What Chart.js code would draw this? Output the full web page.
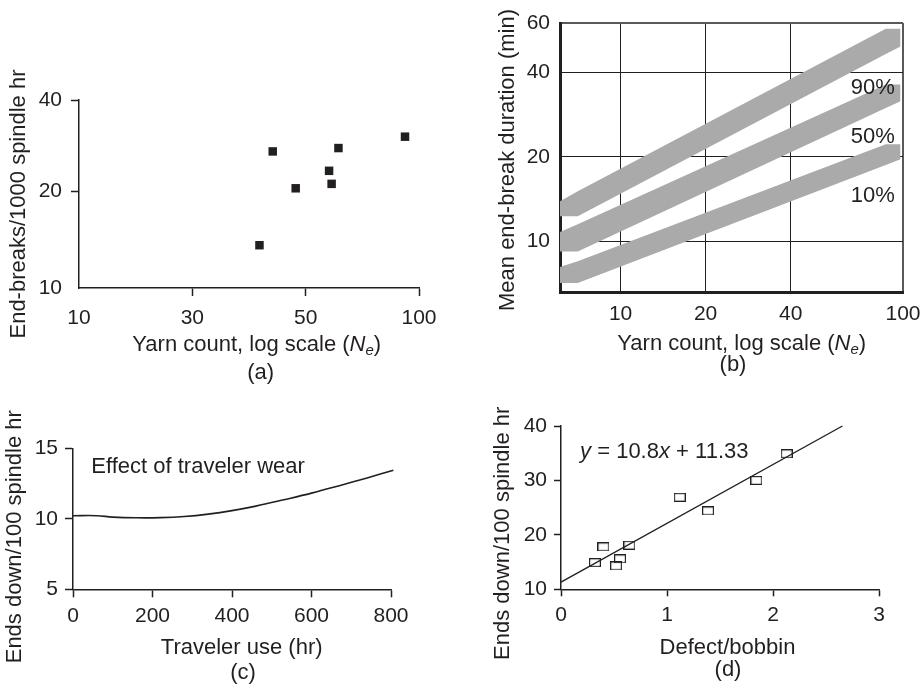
<!DOCTYPE html>
<html><head><meta charset="utf-8">
<script src="https://cdn.jsdelivr.net/npm/chart.js@4.4.1/dist/chart.umd.min.js"></script>
<style>
html,body{margin:0;padding:0;background:#fff;width:920px;height:686px;overflow:hidden;position:relative;}
canvas{position:absolute;}
</style></head><body>
<canvas id="ca" width="460" height="395" style="left:0;top:0;width:460px;height:395px"></canvas>
<canvas id="cb" width="500" height="395" style="left:460px;top:0;width:500px;height:395px"></canvas>
<canvas id="cc" width="460" height="291" style="left:0;top:395px;width:460px;height:291px"></canvas>
<canvas id="cd" width="460" height="291" style="left:460px;top:395px;width:460px;height:291px"></canvas>
<script>
// ---------- Panel (a) ----------
const yarnCountA = [40.6, 43.1, 47.8, 57.7, 58.6, 61.1, 91.8];
const endBreaksA = [13.6, 27.1, 20.5, 23.4, 21.2, 27.8, 30.3];
const xTicksA = [10, 30, 50, 100];
const yTicksA = [10, 20, 40];
// ---------- Panel (b) ----------
const bandX = [6.1, 7.05, 86.9, 98];
const band90Upper = [13.9, 15.1, 57.2, 57.2];
const band90Lower = [12.3, 12.3, 46.5, 49.5];
const band50Upper = [10.8, 11.5, 36.2, 36.2];
const band50Lower = [9.2, 9.2, 29.9, 31.6];
const band10Upper = [8.1, 8.5, 22.2, 22.2];
const band10Lower = [7.1, 7.1, 18.7, 19.6];
const xTicksB = [10, 20, 40, 100];
const yTicksB = [10, 20, 40, 60];
const bandLabels = ['90%', '50%', '10%'];
// ---------- Panel (c) ----------
const travelerUse = [0, 60, 100, 160, 220, 280, 340, 400, 460, 530, 600, 670, 740, 806];
const endsDownC = [10.22, 10.22, 10.12, 10.07, 10.08, 10.16, 10.33, 10.58, 10.9, 11.35, 11.82, 12.35, 12.9, 13.45];
// ---------- Panel (d) ----------
const defectsD = [0.32, 0.40, 0.52, 0.557, 0.645, 1.12, 1.387, 1.843, 2.129];
const endsDownD = [14.9, 17.8, 14.3, 15.6, 18.1, 26.9, 24.4, 30.0, 34.9];
const fitX = [0, 2.655];
const fitY = [11.33, 40.0];

const FONT = "'Liberation Sans', Arial, Helvetica, sans-serif";
const DARK = '#231f20';
const TEXT = '#231f20';
const GRAY = '#aaaaaa';
const FS = 21;   // tick labels
const TS = 22;   // titles and annotations

Chart.defaults.font.family = FONT;
Chart.defaults.font.size = FS;
Chart.defaults.color = TEXT;
Chart.defaults.animation = false;
Chart.defaults.plugins.legend.display = false;
Chart.defaults.plugins.tooltip.enabled = false;

// Axis whose tick values are placed at given fractions, log-interpolated in between
class BreakScale extends Chart.LinearScale {
  determineDataLimits() {
    const b = Array.from(this.options.breaks);
    this.min = b[0]; this.max = b[b.length - 1];
  }
  buildTicks() { return Array.from(this.options.breaks).map(v => ({value: v})); }
  _frac(value) {
    const b = Array.from(this.options.breaks), f = Array.from(this.options.fracs);
    if (value <= b[0]) return f[0];
    for (let i = 0; i < b.length - 1; i++) {
      if (value <= b[i + 1]) {
        const t = (Math.log(value) - Math.log(b[i])) / (Math.log(b[i + 1]) - Math.log(b[i]));
        return f[i] + t * (f[i + 1] - f[i]);
      }
    }
    return f[f.length - 1];
  }
  getPixelForValue(value) { return this.getPixelForDecimal(this._frac(value)); }
  getValueForPixel(pixel) {
    const d = this.getDecimalForPixel(pixel);
    const b = Array.from(this.options.breaks), f = Array.from(this.options.fracs);
    for (let i = 0; i < b.length - 1; i++) {
      if (d <= f[i + 1] || i === b.length - 2) {
        const t = (d - f[i]) / (f[i + 1] - f[i]);
        return Math.exp(Math.log(b[i]) + t * (Math.log(b[i + 1]) - Math.log(b[i])));
      }
    }
  }
}
BreakScale.id = 'breaks';
BreakScale.defaults = {};
Chart.register(BreakScale);

function fontOf(p, base) { return (p.italic ? 'italic ' : '') + (p.size || base) + 'px ' + FONT; }
function textPlugin(id, items) {
  return { id, afterDraw(chart) {
    const ctx = chart.ctx;
    items.forEach(it => {
      let x = it.x, y = it.y;
      if (it.at) { x = chart.scales.x.getPixelForValue(it.at[0]); y = chart.scales.y.getPixelForValue(it.at[1]); }
      const parts = it.parts.map(p => typeof p === 'string' ? {text: p} : Object.assign({}, p));
      ctx.save();
      ctx.translate(x, y);
      if (it.rotate) ctx.rotate(it.rotate);
      ctx.textBaseline = it.baseline || 'alphabetic';
      ctx.textAlign = 'left';
      ctx.fillStyle = TEXT;
      let total = 0;
      parts.forEach(p => { ctx.font = fontOf(p, it.size || TS); p.w = ctx.measureText(p.text).width; total += p.w; });
      let cx = it.align === 'left' ? 0 : it.align === 'right' ? -total : -total / 2;
      parts.forEach(p => { ctx.font = fontOf(p, it.size || TS); ctx.fillText(p.text, cx, p.dy || 0); cx += p.w; });
      ctx.restore();
    });
  }};
}
const pts = (xs, ys) => xs.map((x, i) => ({x, y: ys[i]}));
const hideFirst = c => c.index === 0 ? 'rgba(0,0,0,0)' : DARK;
const NE = [{text: 'N', italic: true}, {text: 'e', italic: true, size: 15, dy: 4}, ')'];

// ---------- Chart (a) ----------
new Chart(document.getElementById('ca'), {
  type: 'scatter',
  data: { datasets: [{
    data: pts(yarnCountA, endBreaksA),
    pointStyle: 'rect', pointRadius: 6, backgroundColor: DARK, borderColor: DARK, borderWidth: 0
  }]},
  options: {
    responsive: false,
    layout: { autoPadding: false, padding: { top: 100, right: 41, bottom: 0, left: 0 } },
    scales: {
      x: { type: 'breaks', position: 'bottom', breaks: xTicksA, fracs: [0, 1/3, 2/3, 1],
        grid: { drawOnChartArea: false, tickLength: 8, tickWidth: 1.5, tickColor: hideFirst },
        border: { display: true, color: DARK, width: 1.5 },
        ticks: { padding: 10, autoSkip: false, maxRotation: 0, callback: v => String(v) },
        afterFit: s => { s.height = 107; } },
      y: { type: 'breaks', position: 'left', breaks: yTicksA, fracs: [0, 0.513, 1],
        grid: { drawOnChartArea: false, tickLength: 8, tickWidth: 1.5, tickColor: hideFirst },
        border: { display: true, color: DARK, width: 1.5 },
        ticks: { padding: 9, autoSkip: false, callback: v => String(v) },
        afterFit: s => { s.width = 79; } }
    }
  },
  plugins: [textPlugin('txtA', [
    { x: 19, y: 204, rotate: -Math.PI / 2, baseline: 'middle', parts: ['End-breaks/1000 spindle hr'] },
    { x: 256.7, y: 351, parts: ['Yarn count, log scale ('].concat(NE) },
    { x: 260.7, y: 379, parts: ['(a)'] }
  ])]
});

// ---------- Chart (b) ----------
const bandDs = (up, lo) => [
  { data: pts(bandX, up), fill: '+1', backgroundColor: GRAY, borderColor: 'rgba(0,0,0,0)', borderWidth: 1, pointRadius: 0 },
  { data: pts(bandX, lo), fill: false, borderColor: 'rgba(0,0,0,0)', borderWidth: 1, pointRadius: 0 }
];
new Chart(document.getElementById('cb'), {
  type: 'line',
  data: { datasets: [].concat(bandDs(band90Upper, band90Lower), bandDs(band50Upper, band50Lower), bandDs(band10Upper, band10Lower)) },
  options: {
    responsive: false,
    layout: { autoPadding: false, padding: { top: 23, right: 57, bottom: 0, left: 0 } },
    scales: {
      x: { type: 'logarithmic', position: 'bottom', min: 6.1, max: 100,
        afterBuildTicks: s => { s.ticks = xTicksB.map(v => ({value: v})); },
        grid: { drawTicks: false, color: c => (c.tick && c.tick.value === 100) ? '#58595b' : DARK,
                lineWidth: c => (c.tick && c.tick.value === 100) ? 2 : 1 },
        border: { display: true, color: DARK, width: 3 },
        ticks: { padding: 10, autoSkip: false, maxRotation: 0, callback: v => String(v) },
        afterFit: s => { s.height = 103; } },
      y: { type: 'logarithmic', position: 'left', min: 6.6, max: 60,
        afterBuildTicks: s => { s.ticks = yTicksB.map(v => ({value: v})); },
        grid: { drawTicks: false, color: c => (c.tick && c.tick.value === 60) ? '#58595b' : DARK,
                lineWidth: c => (c.tick && c.tick.value === 60) ? 2 : 1 },
        border: { display: true, color: DARK, width: 3 },
        ticks: { padding: 10, autoSkip: false, callback: v => String(v) },
        afterFit: s => { s.width = 100; } }
    }
  },
  plugins: [textPlugin('txtB', [
    { x: 48.3, y: 160, rotate: -Math.PI / 2, baseline: 'middle', parts: ['Mean end-break duration (min)'] },
    { x: 281.7, y: 350, parts: ['Yarn count, log scale ('].concat(NE) },
    { x: 273, y: 371, parts: ['(b)'] },
    { at: [93.5, 33.5], align: 'right', parts: [bandLabels[0]] },
    { at: [93.5, 22.4], align: 'right', parts: [bandLabels[1]] },
    { at: [93.5, 13.85], align: 'right', parts: [bandLabels[2]] }
  ])]
});

// ---------- Chart (c) ----------
new Chart(document.getElementById('cc'), {
  type: 'line',
  data: { datasets: [{
    data: pts(travelerUse, endsDownC), borderColor: DARK, borderWidth: 1.6, pointRadius: 0,
    tension: 0.4, fill: false, clip: false
  }]},
  options: {
    responsive: false,
    layout: { autoPadding: false, padding: { top: 53.3, right: 69, bottom: 0, left: 0 } },
    scales: {
      x: { type: 'linear', position: 'bottom', min: 0, max: 800,
        grid: { drawOnChartArea: false, tickLength: 8, tickWidth: 1.5, tickColor: DARK },
        border: { display: true, color: DARK, width: 1.5 },
        ticks: { stepSize: 200, padding: 6, autoSkip: false, maxRotation: 0 },
        afterFit: s => { s.height = 96.7; } },
      y: { type: 'linear', position: 'left', min: 5, max: 15,
        grid: { drawOnChartArea: false, tickLength: 8, tickWidth: 1.5, tickColor: DARK },
        border: { display: true, color: DARK, width: 1.5 },
        ticks: { stepSize: 5, padding: 7, autoSkip: false },
        afterFit: s => { s.width = 73; } }
    }
  },
  plugins: [textPlugin('txtC', [
    { x: 15, y: 141.7, rotate: -Math.PI / 2, baseline: 'middle', parts: ['Ends down/100 spindle hr'] },
    { x: 241.7, y: 259.3, parts: ['Traveler use (hr)'] },
    { x: 243, y: 284, parts: ['(c)'] },
    { at: [46, 13.23], align: 'left', parts: ['Effect of traveler wear'] }
  ])]
});

// ---------- Chart (d) ----------
function hollowRect() {
  const c = document.createElement('canvas');
  c.width = 12; c.height = 9;
  const g = c.getContext('2d');
  g.strokeStyle = DARK; g.lineWidth = 1.2;
  g.strokeRect(0.6, 0.6, 10.8, 7.8);
  return c;
}
new Chart(document.getElementById('cd'), {
  type: 'line',
  data: { datasets: [
    { data: pts(defectsD, endsDownD), showLine: false, pointStyle: hollowRect(), pointRadius: 6, clip: false },
    { data: pts(fitX, fitY), borderColor: DARK, borderWidth: 1.4, pointRadius: 0, fill: false, clip: false }
  ]},
  options: {
    responsive: false,
    layout: { autoPadding: false, padding: { top: 31, right: 41, bottom: 0, left: 0 } },
    scales: {
      x: { type: 'linear', position: 'bottom', min: 0, max: 3,
        grid: { drawOnChartArea: false, tickLength: 7, tickWidth: 1.5, tickColor: DARK },
        border: { display: true, color: DARK, width: 1.5 },
        ticks: { stepSize: 1, padding: 6, autoSkip: false, maxRotation: 0 },
        afterFit: s => { s.height = 96.7; } },
      y: { type: 'linear', position: 'left', min: 10, max: 40,
        grid: { drawOnChartArea: false, tickLength: 7, tickWidth: 1.5, tickColor: DARK },
        border: { display: true, color: DARK, width: 1.5 },
        ticks: { stepSize: 10, padding: 7, autoSkip: false },
        afterFit: s => { s.width = 101; } }
    }
  },
  plugins: [textPlugin('txtD', [
    { x: 43.3, y: 138.3, rotate: -Math.PI / 2, baseline: 'middle', parts: ['Ends down/100 spindle hr'] },
    { x: 267.5, y: 259.3, parts: ['Defect/bobbin'] },
    { x: 268, y: 281, parts: ['(d)'] },
    { at: [0.18, 34.07], align: 'left', parts: [{text: 'y', italic: true}, ' = 10.8', {text: 'x', italic: true}, ' + 11.33'] }
  ])]
});
</script>
</body></html>
